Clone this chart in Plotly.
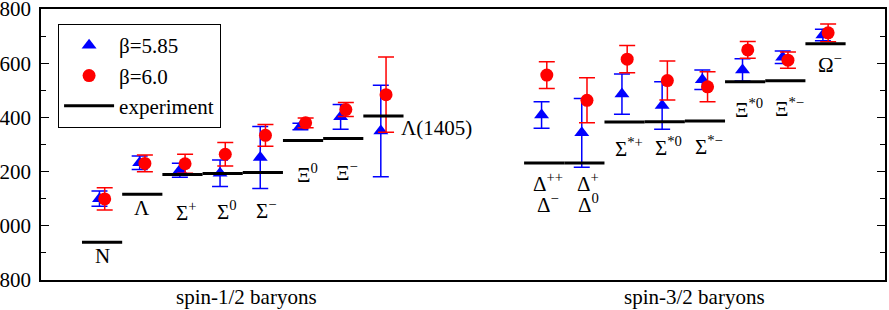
import plotly.graph_objects as go

# ---- data ----
names = ["N", "Λ", "Σ+", "Σ0", "Σ−", "Ξ0", "Ξ−", "Λ(1405)",
         "Δ++/Δ−", "Δ+/Δ0", "Σ*+", "Σ*0", "Σ*−", "Ξ*0", "Ξ*−", "Ω−"]
labels = ["N", "Λ", "Σ<sup>+</sup>", "Σ<sup>0</sup>", "Σ<sup>−</sup>",
          "Ξ<sup>0</sup>", "Ξ<sup>−</sup>", "Λ(1405)",
          "Δ<sup>++</sup>", "Δ<sup>+</sup>",
          "Σ<sup>*+</sup>", "Σ<sup>*0</sup>", "Σ<sup>*−</sup>",
          "Ξ<sup>*0</sup>", "Ξ<sup>*−</sup>", "Ω<sup>−</sup>"]
second_row = {"Δ++/Δ−": "Δ<sup>−</sup>", "Δ+/Δ0": "Δ<sup>0</sup>"}
beta585 = [1100, 1233, 1205, 1194, 1252, 1366, 1402, 1350,
           1409, 1343, 1486, 1444, 1539, 1575, 1622, 1704]
err585 = [28, 25, 26, 49, 114, 12, 46, 169,
          49, 127, 74, 88, 36, 41, 23, 21]
beta60 = [1099, 1230, 1229, 1264, 1334, 1380, 1429, 1484,
          1556, 1463, 1615, 1536, 1513, 1649, 1611, 1712]
err60 = [41, 31, 35, 43, 40, 18, 26, 139,
         49, 83, 50, 72, 55, 31, 30, 33]
experiment = [939, 1116, 1189, 1193, 1197, 1315, 1322, 1405,
              1232, 1232, 1383, 1384, 1387, 1532, 1535, 1672]
ytick_vals = [800, 1000, 1200, 1400, 1600, 1800]
ytick_text = ["800", "000", "200", "400", "600", "800"]
group_titles = ["spin-1/2 baryons", "spin-3/2 baryons"]

# ---- layout helpers (positions, not data) ----
slot = [1, 2, 3, 4, 5, 6, 7, 8, 12, 13, 14, 15, 16, 17, 18, 19]
# pixel shift from experiment line to label box centre
label_drop = [14, 14, 37, 37, 37, 33, 33, 12, 20, 20, 25, 25, 25, 27, 27, 20]
row_gap = 21
group_x = [4.6, 15.75]
FONT = "Liberation Serif, Times New Roman, serif"

fig = go.Figure()
fig.add_trace(go.Scatter(
    x=[s - 0.065 for s in slot], y=beta585, mode="markers", name="β=5.85",
    marker=dict(symbol="triangle-up", size=13, color="#0000ff"),
    error_y=dict(type="data", array=err585, color="#0000ff", thickness=1.5, width=8),
))
fig.add_trace(go.Scatter(
    x=[s + 0.065 for s in slot], y=beta60, mode="markers", name="β=6.0",
    marker=dict(symbol="circle", size=13, color="#ff0000"),
    error_y=dict(type="data", array=err60, color="#ff0000", thickness=1.5, width=8),
))
ex, ey = [], []
for s, m in zip(slot, experiment):
    ex += [s - 0.5, s + 0.5, None]
    ey += [m, m, None]
fig.add_trace(go.Scatter(x=ex, y=ey, mode="lines", name="experiment",
                         line=dict(color="black", width=3)))


def label(x, y, text, drop, anchor="center"):
    sup = "<sup>" in text
    return dict(x=x, y=y, xref="x", yref="y", text=text, showarrow=False,
                xanchor=anchor, yanchor="middle", yshift=-drop,
                xshift=(4 if (sup and anchor == "center") else 0),
                font=dict(family=FONT, size=21, color="black"))


ann = []
for i, (s, m, t) in enumerate(zip(slot, experiment, labels)):
    if names[i] == "Λ(1405)":
        ann.append(label(s + 0.38, m, t, label_drop[i], anchor="left"))
    else:
        ann.append(label(s, m, t, label_drop[i]))
        if names[i] in second_row:
            ann.append(label(s, m, second_row[names[i]], label_drop[i] + row_gap))
for gx, gt in zip(group_x, group_titles):
    ann.append(dict(x=gx, y=-0.063, xref="x", yref="paper", text=gt, showarrow=False,
                    xanchor="center", yanchor="middle",
                    font=dict(family=FONT, size=21, color="black")))

fig.update_layout(
    width=889, height=310,
    margin=dict(l=41, r=4, t=9, b=30, autoexpand=False),
    paper_bgcolor="white", plot_bgcolor="white",
    font=dict(family=FONT, size=21, color="black"),
    annotations=ann,
    legend=dict(x=0.02, y=0.945, xanchor="left", yanchor="top",
                bordercolor="black", borderwidth=1.2, bgcolor="white",
                itemwidth=50, font=dict(family=FONT, size=21)),
    xaxis=dict(range=[-0.52, 20.48], showline=True, mirror=True, linecolor="black",
               linewidth=1.5, showgrid=False, zeroline=False, showticklabels=False,
               ticks="", automargin=False),
    yaxis=dict(range=[800, 1800], tickmode="array", tickvals=ytick_vals, ticktext=ytick_text,
               ticks="inside", ticklen=8, tickwidth=1.2, tickcolor="black",
               showline=True, mirror="allticks", linecolor="black", linewidth=1.5,
               showgrid=False, zeroline=False, ticklabelstandoff=4, automargin=False,
               ticklabeloverflow="allow",
               minor=dict(dtick=100, tick0=800, ticks="inside", ticklen=5, tickwidth=1,
                          tickcolor="black", showgrid=False)),
)
fig.write_html("out.html", config={"displayModeBar": False},
               post_script="document.body.style.margin='0';document.body.style.padding='0';")
